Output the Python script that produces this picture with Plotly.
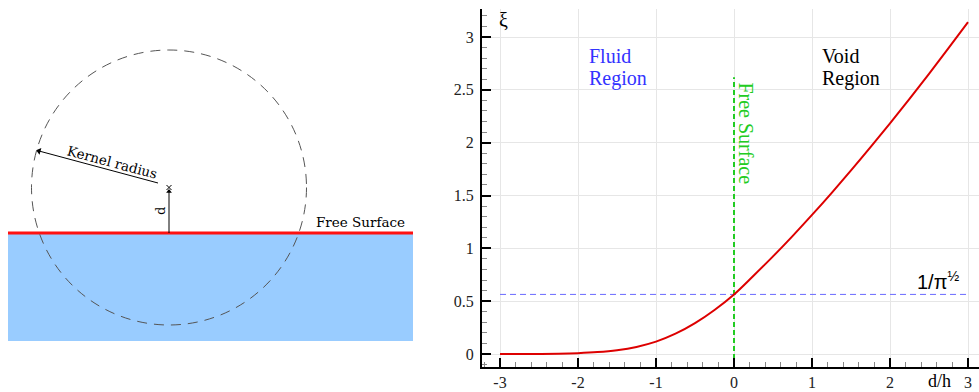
import plotly.graph_objects as go

# ---- data ----
d_over_h = [-3.0, -2.75, -2.5, -2.25, -2.0, -1.75, -1.5, -1.25, -1.0, -0.75, -0.5, -0.25,
            0.0, 0.25, 0.5, 0.75, 1.0, 1.25, 1.5, 1.75, 2.0, 2.25, 2.5, 2.75, 3.0]
xi = [0.0, 0.0003, 0.001, 0.003, 0.008, 0.018, 0.036, 0.067, 0.117, 0.192, 0.292, 0.417,
      0.564, 0.741, 0.924, 1.116, 1.316, 1.523, 1.737, 1.957, 2.183, 2.415, 2.652, 2.894, 3.14]
ref_level = 0.564          # 1/sqrt(pi)
ref_x = [-3.0, 3.0]
surface_x = [0.0, 0.0]
surface_y = [-0.123, 2.62]
x_ticks = [-3, -2, -1, 0, 1, 2, 3]
x_tick_text = ["-3", "-2", "-1", "0", "1", "2", "3"]
y_ticks = [0, 0.5, 1, 1.5, 2, 2.5, 3]
y_tick_text = ["0", "0.5", "1", "1.5", "2", "2.5", "3"]

# schematic (left panel, pixel-like units)
circle_center = (169, 187.5)
circle_radius = 137.5
surface_level = 233
water_bottom = 341
panel_left, panel_right = 8, 413
radius_tip = (36, 150)
radius_tail = (158, 183)

W, H = 979, 392
SERIF = "Liberation Serif, Tinos, Times New Roman, serif"
SCHEM = "DejaVu Serif, serif"

fig = go.Figure()

# ---- right panel: curve ----
fig.add_trace(go.Scatter(x=ref_x, y=[ref_level, ref_level], mode="lines",
                         line=dict(color="#6a6aff", width=1, dash="6px,4px"),
                         hoverinfo="skip", showlegend=False))
fig.add_trace(go.Scatter(x=surface_x, y=surface_y, mode="lines",
                         line=dict(color="#22cc22", width=2, dash="5px,3px"),
                         hoverinfo="skip", showlegend=False))
fig.add_trace(go.Scatter(x=d_over_h, y=xi, mode="lines", line_shape="spline",
                         line=dict(color="#dd0000", width=2), showlegend=False))

# ---- left panel: schematic on its own hidden axes ----
cx, cy = circle_center
fig.add_shape(type="rect", xref="x2", yref="y2", x0=panel_left, x1=panel_right,
              y0=surface_level, y1=water_bottom, fillcolor="#99ccff", line_width=0, layer="below")
fig.add_shape(type="line", xref="x2", yref="y2", x0=panel_left, x1=panel_right,
              y0=surface_level, y1=surface_level, line=dict(color="#ff1111", width=3))
fig.add_shape(type="circle", xref="x2", yref="y2",
              x0=cx - circle_radius, x1=cx + circle_radius,
              y0=cy - circle_radius, y1=cy + circle_radius,
              line=dict(color="#555555", width=1, dash="10px,7px"))
fig.add_trace(go.Scatter(x=[cx], y=[cy], xaxis="x2", yaxis="y2", mode="markers",
                         marker=dict(symbol="x-thin", size=5, line=dict(width=1, color="black")),
                         showlegend=False, hoverinfo="skip"))
# arrow shafts
fig.add_shape(type="line", xref="x2", yref="y2", x0=cx, x1=cx, y0=surface_level, y1=cy + 3,
              line=dict(color="black", width=1))
fig.add_shape(type="line", xref="x2", yref="y2", x0=radius_tail[0], x1=radius_tip[0] + 3,
              y0=radius_tail[1], y1=radius_tip[1] + 1, line=dict(color="black", width=1))
# arrow heads
fig.add_trace(go.Scatter(x=[cx], y=[cy + 4], xaxis="x2", yaxis="y2", mode="markers",
                         marker=dict(symbol="triangle-up", size=5, color="black"),
                         showlegend=False, hoverinfo="skip"))
fig.add_trace(go.Scatter(x=[radius_tip[0] + 3], y=[radius_tip[1] + 1], xaxis="x2", yaxis="y2",
                         mode="markers",
                         marker=dict(symbol="triangle-left", size=6, angle=15, color="black"),
                         showlegend=False, hoverinfo="skip"))

fig.add_annotation(xref="x2", yref="y2", x=112, y=162, text="Kernel radius", showarrow=False,
                   textangle=15, font=dict(family=SCHEM, size=13.5, color="black"))
fig.add_annotation(xref="x2", yref="y2", x=160, y=211, text="d", showarrow=False,
                   textangle=-90, font=dict(family=SCHEM, size=13, color="black"))
fig.add_annotation(xref="x2", yref="y2", x=360, y=222, text="Free Surface", showarrow=False,
                   font=dict(family=SCHEM, size=13.5, color="black"))

# ---- right panel annotations ----
def ann(x, y, text, color="black", size=20, family=SERIF, angle=0, xanchor="center"):
    fig.add_annotation(x=x, y=y, xref="x", yref="y", text=text, showarrow=False,
                       textangle=angle, xanchor=xanchor, yanchor="middle",
                       font=dict(family=family, size=size, color=color))

ann(-1.885, 2.82, "Fluid", color="#3333ff", xanchor="left")
ann(-1.885, 2.61, "Region", color="#3333ff", xanchor="left")
ann(1.10, 2.82, "Void", xanchor="left")
ann(1.10, 2.61, "Region", xanchor="left")
ann(0.15, 2.09, "Free Surface", color="#22cc22", angle=90)
ann(2.62, 0.70, "1/π<sup>½</sup>", family="Liberation Sans, Arial, sans-serif", size=20)
ann(-2.95, 3.16, "ξ", size=20)
fig.add_annotation(x=939 / W, y=(H - 381) / H, xref="paper", yref="paper", text="d/h",
                   xanchor="center", yanchor="middle",
                   showarrow=False, font=dict(family=SERIF, size=18, color="black"))

x0_px, y_top_px, y_bot_px = 482, 9, 367
axis_common = dict(ticks="inside", ticklen=9, tickwidth=2, tickcolor="black",
                   showline=True, linecolor="black", linewidth=2,
                   showgrid=True, gridcolor="#e6e6e6", gridwidth=1, zeroline=False,
                   tickfont=dict(family=SERIF, size=16, color="#222"), automargin=False)
fig.update_layout(
    width=W, height=H, template="none",
    margin=dict(l=0, r=0, t=0, b=0),
    paper_bgcolor="white", plot_bgcolor="rgba(0,0,0,0)",
    showlegend=False,
    xaxis=dict(domain=[x0_px / W, 1.0], range=[-3.231, 3.141],
               tickvals=x_ticks, ticktext=x_tick_text,
               minor=dict(ticks="inside", ticklen=5, tickwidth=1, tickcolor="#888", dtick=0.2,
                          tick0=0, showgrid=False), **axis_common),
    yaxis=dict(domain=[(H - y_bot_px) / H, (H - y_top_px) / H], range=[-0.123, 3.265],
               tickvals=y_ticks, ticktext=y_tick_text, ticklabelstandoff=3,
               minor=dict(ticks="inside", ticklen=5, tickwidth=1, tickcolor="#888", dtick=0.1,
                          tick0=0, showgrid=False), **axis_common),
    xaxis2=dict(domain=[0, 420 / W], range=[0, 420], visible=False, fixedrange=True, anchor="y2"),
    yaxis2=dict(domain=[0, 1], range=[392, 0], visible=False, fixedrange=True, anchor="x2"),
)

fig.write_html("out.html")
